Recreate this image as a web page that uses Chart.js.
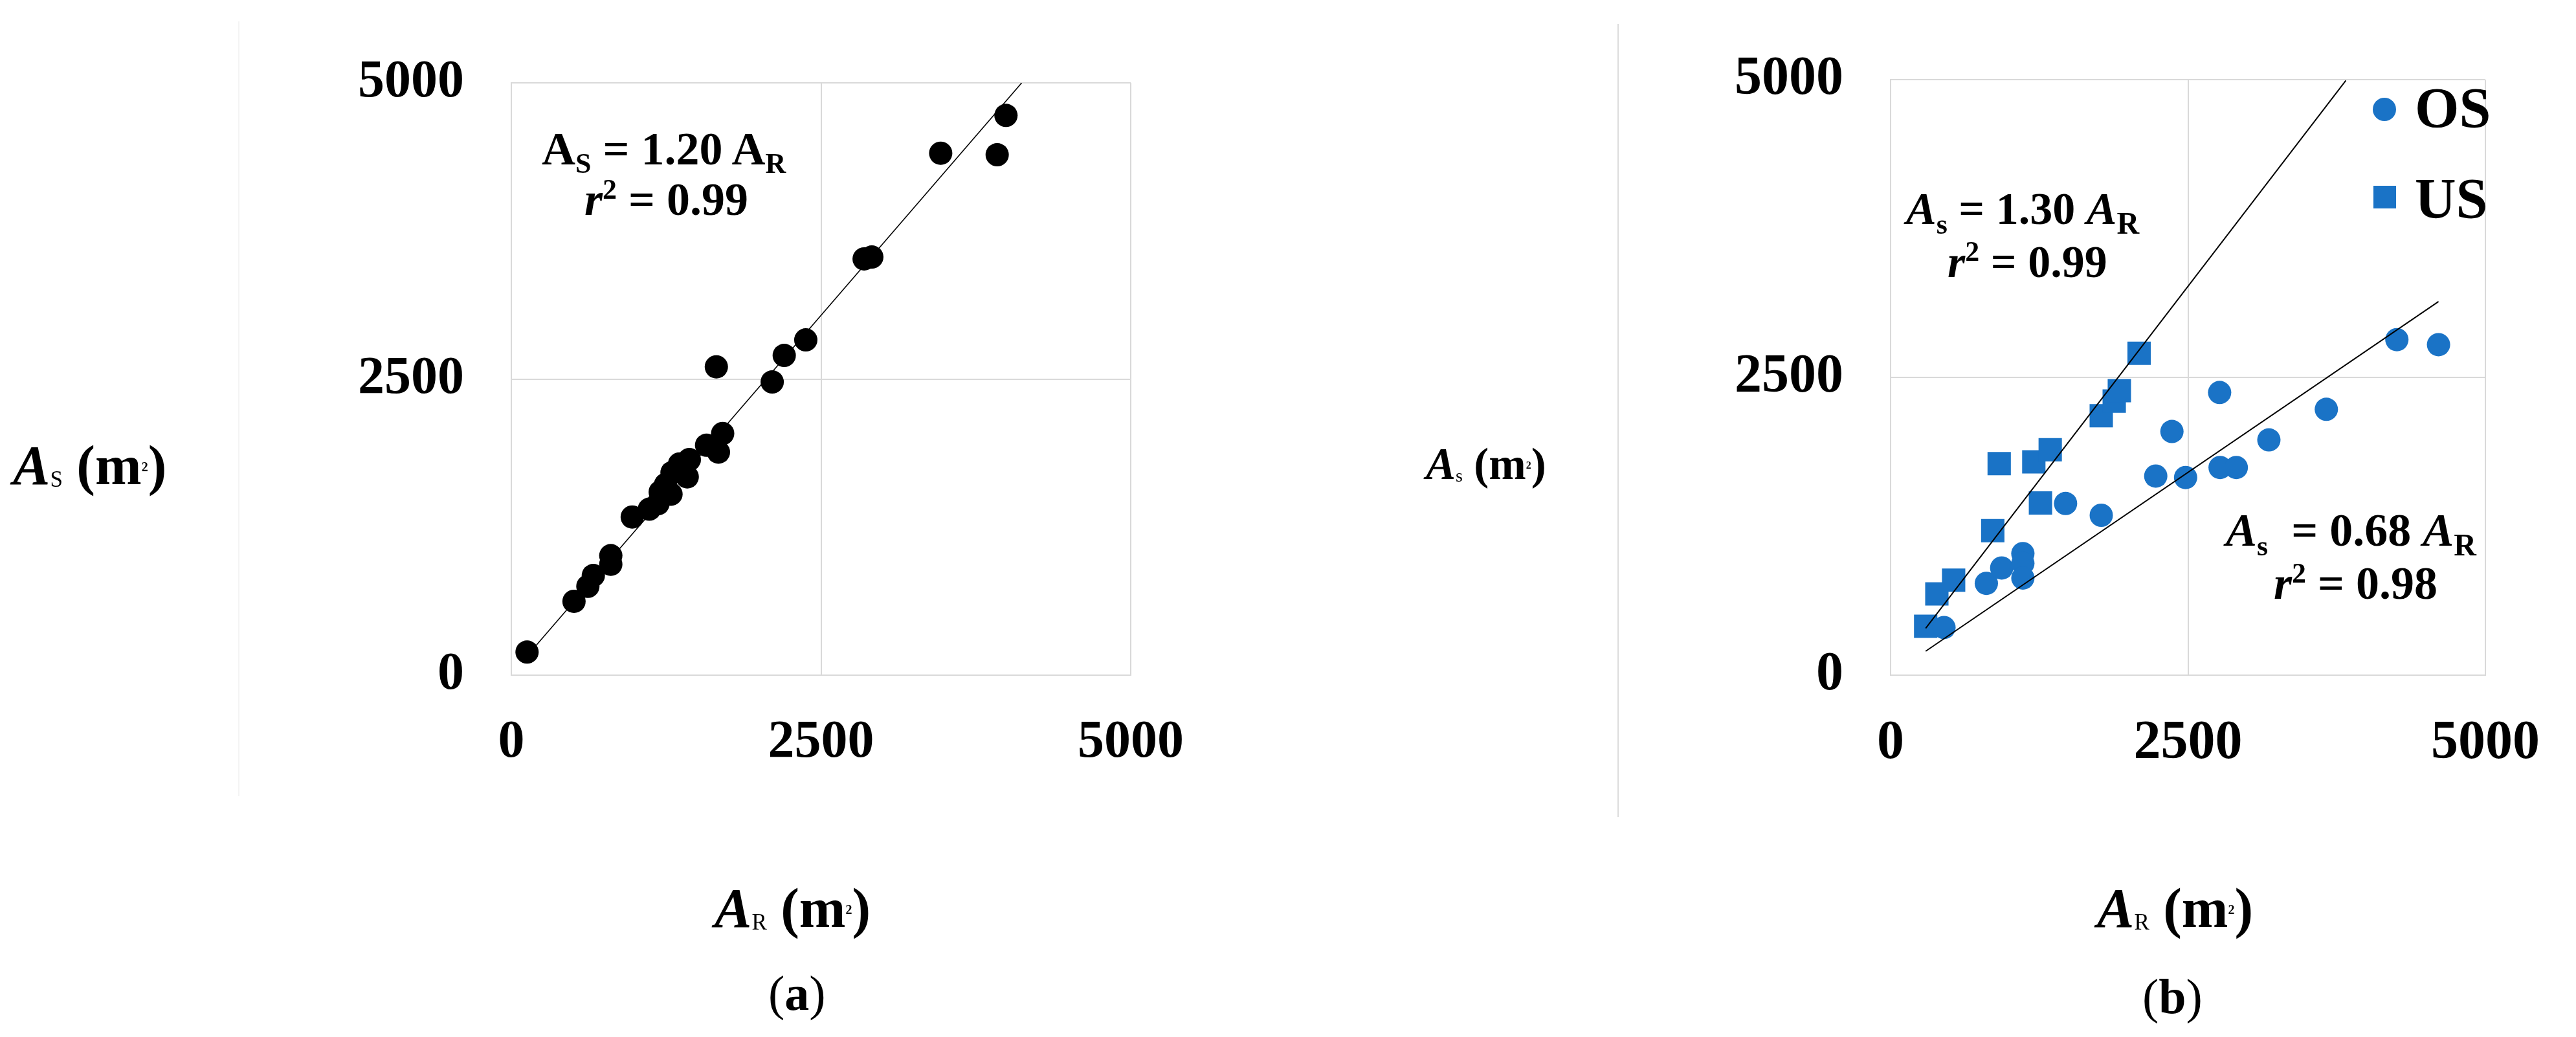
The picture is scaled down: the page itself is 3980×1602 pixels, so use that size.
<!DOCTYPE html>
<html>
<head>
<meta charset="utf-8">
<script src="https://cdn.jsdelivr.net/npm/chart.js@4.4.0/dist/chart.umd.min.js"></script>
<style>
  body { margin: 0; background: #fff; }
  #page { position: relative; width: 3980px; height: 1602px; overflow: hidden; background: #fff;
    font-family: "Liberation Serif", "Times New Roman", serif; color: #000; }
  canvas { position: absolute; top: 0; }
  .txt { position: absolute; line-height: 1; white-space: pre; font-weight: bold; }
  .sep { position: absolute; width: 2px; }
  .mark { position: absolute; background: #1a73c6; }
</style>
</head>
<body>
<div id="page">
  <canvas id="chartA" width="1990" height="1602" style="left:0"></canvas>
  <canvas id="chartB" width="1990" height="1602" style="left:1990px"></canvas>
</div>
<script>
const FONT = "'Liberation Serif', 'Times New Roman', serif";
const BLUE = "#1a73c6";

// axis ticks (both panels)
const tickValues = [0, 2500, 5000];
const tickLabels = ["0", "2500", "5000"];

// panel (a): all sites
const aX = [127, 506, 618, 662, 803, 803, 976, 1114, 1184, 1202, 1245, 1289, 1297, 1358,
  1420, 1437, 1576, 1672, 1706, 1655, 2106, 2203, 2377, 2848, 2910, 3466, 3922, 3993];
const aY = [195, 623, 750, 841, 936, 1009, 1335, 1401, 1447, 1547, 1610, 1528, 1710, 1783,
  1674, 1820, 1941, 1883, 2040, 2603, 2475, 2699, 2830, 3514, 3530, 4406, 4393, 4725];
const aFitX = [125, 4120];
const aFitY = [160, 5000];

// panel (b): OS circles, US squares
const osX = [449, 805, 934, 1112, 1112, 1112, 1471, 1771, 2229, 2365, 2480, 2766, 2770,
  2906, 3180, 3663, 4256, 4606];
const osY = [400, 771, 900, 1021, 939, 816, 1442, 1343, 1672, 2047, 1660, 2374, 1744,
  1744, 1976, 2233, 2818, 2776];
const usX = [295, 389, 530, 859, 913, 1204, 1342, 1260, 1771, 1880, 1923, 2089];
const usY = [411, 682, 798, 1214, 1777, 1792, 1893, 1446, 2179, 2302, 2390, 2704];
const usFitX = [295, 3827];
const usFitY = [393, 4995];
const osFitX = [295, 4606];
const osFitY = [201, 3138];

const toPoints = (xs, ys) => xs.map((x, i) => ({ x, y: ys[i] }));

const fitLine = (xs, ys, width) => ({
  data: toPoints(xs, ys),
  showLine: true,
  borderColor: "#000",
  borderWidth: width,
  pointRadius: 0,
  pointHoverRadius: 0,
});

const markers = (xs, ys, color, style, radius) => ({
  data: toPoints(xs, ys),
  backgroundColor: color,
  borderWidth: 0,
  pointStyle: style,
  pointRadius: radius,
  pointHoverRadius: radius,
});

const axis = (pad, size, fit) => ({
  type: "linear",
  min: 0,
  max: 5000,
  afterBuildTicks: (scale) => {
    scale.ticks = tickValues.map((v) => ({ value: v }));
  },
  afterFit: fit,
  grid: { color: "#d9d9d9", lineWidth: 2, drawTicks: false },
  border: { color: "#d9d9d9", width: 2 },
  ticks: {
    padding: pad,
    color: "#000",
    maxRotation: 0,
    font: { family: FONT, size, weight: "bold" },
    callback: (v, i) => tickLabels[i],
  },
});

const drawPanel = (canvas, datasets, padding, size) =>
  new Chart(canvas, {
    type: "scatter",
    data: { datasets },
    options: {
      responsive: false,
      animation: false,
      events: [],
      layout: { padding },
      plugins: { legend: { display: false }, tooltip: { enabled: false } },
      scales: {
        x: axis(56, size, (s) => { s.height = 150; }),
        y: axis(73, size, (s) => { s.width = 300; }),
      },
    },
  });

drawPanel(
  document.getElementById("chartA"),
  [fitLine(aFitX, aFitY, 1.6), markers(aX, aY, "#000", "circle", 18)],
  { left: 490, right: 243, top: 128, bottom: 409 },
  82
);

drawPanel(
  document.getElementById("chartB"),
  [
    fitLine(usFitX, usFitY, 2),
    fitLine(osFitX, osFitY, 2),
    markers(osX, osY, BLUE, "circle", 18),
    markers(usX, usY, BLUE, "rect", 25.5),
  ],
  { left: 631, right: 104, top: 122, bottom: 409 },
  84
);

// text placed by baseline
const page = document.getElementById("page");
const addText = (left, baseline, size, html) => {
  const el = document.createElement("div");
  el.className = "txt";
  el.style.left = left + "px";
  el.style.top = Math.round(baseline - 0.8375 * size) + "px";
  el.style.fontSize = size + "px";
  el.innerHTML = html;
  page.appendChild(el);
};
const run = (t, size, shift, extra = "") =>
  `<span style="font-size:${size}px;vertical-align:${shift}px;${extra}">${t}</span>`;

// axis titles
addText(20, 748, 86, "<i>A</i>" + run("S", 35, -4, "font-weight:normal") + " (m" + run("2", 20, 20) + ")");
addText(2203, 741, 69, "<i>A</i>" + run("s", 28, -4, "font-weight:normal") + " (m" + run("2", 16, 16) + ")");
addText(1104, 1432, 86, "<i>A</i>" + run("R", 35, -4, "font-weight:normal") + " (m" + run("2", 20, 20) + ")");
addText(3240, 1432, 86, "<i>A</i>" + run("R", 35, -4, "font-weight:normal") + " (m" + run("2", 20, 20) + ")");

// panel captions
addText(1187, 1560, 76, "<span style=\"font-weight:normal\">(</span>a<span style=\"font-weight:normal\">)</span>");
addText(3310, 1565, 76, "<span style=\"font-weight:normal\">(</span>b<span style=\"font-weight:normal\">)</span>");

// regression labels
addText(837, 254, 72, "A" + run("S", 44, -13) + " = 1.20 A" + run("R", 44, -13));
addText(903, 331, 72, "<i>r</i>" + run("2", 44, 25) + " = 0.99");
addText(2945, 347, 70, "<i>A</i>" + run("s", 44, -15) + " = 1.30 <i>A</i>" + run("R", 48, -15));
addText(3009, 426, 70, "<i>r</i>" + run("2", 44, 25) + " = 0.99");
addText(3439, 843, 72, "<i>A</i>" + run("s", 44, -15) + "  = 0.68 <i>A</i>" + run("R", 48, -15));
addText(3513, 924, 72, "<i>r</i>" + run("2", 44, 25) + " = 0.98");

// legend
const addMark = (cx, cy, side, round) => {
  const el = document.createElement("div");
  el.className = "mark";
  el.style.left = cx - side / 2 + "px";
  el.style.top = cy - side / 2 + "px";
  el.style.width = side + "px";
  el.style.height = side + "px";
  if (round) el.style.borderRadius = "50%";
  page.appendChild(el);
};
addMark(3684, 169, 36, true);
addText(3731, 197, 88, "OS");
addMark(3684, 304, 35, false);
addText(3731, 337, 88, "US");

// panel separators
const addSep = (x, y0, y1, color) => {
  const el = document.createElement("div");
  el.className = "sep";
  el.style.left = x + "px";
  el.style.top = y0 + "px";
  el.style.height = y1 - y0 + "px";
  el.style.background = color;
  page.appendChild(el);
};
addSep(368, 33, 1230, "#f4f4f4");
addSep(2499, 37, 1262, "#dcdcdc");
</script>
</body>
</html>
